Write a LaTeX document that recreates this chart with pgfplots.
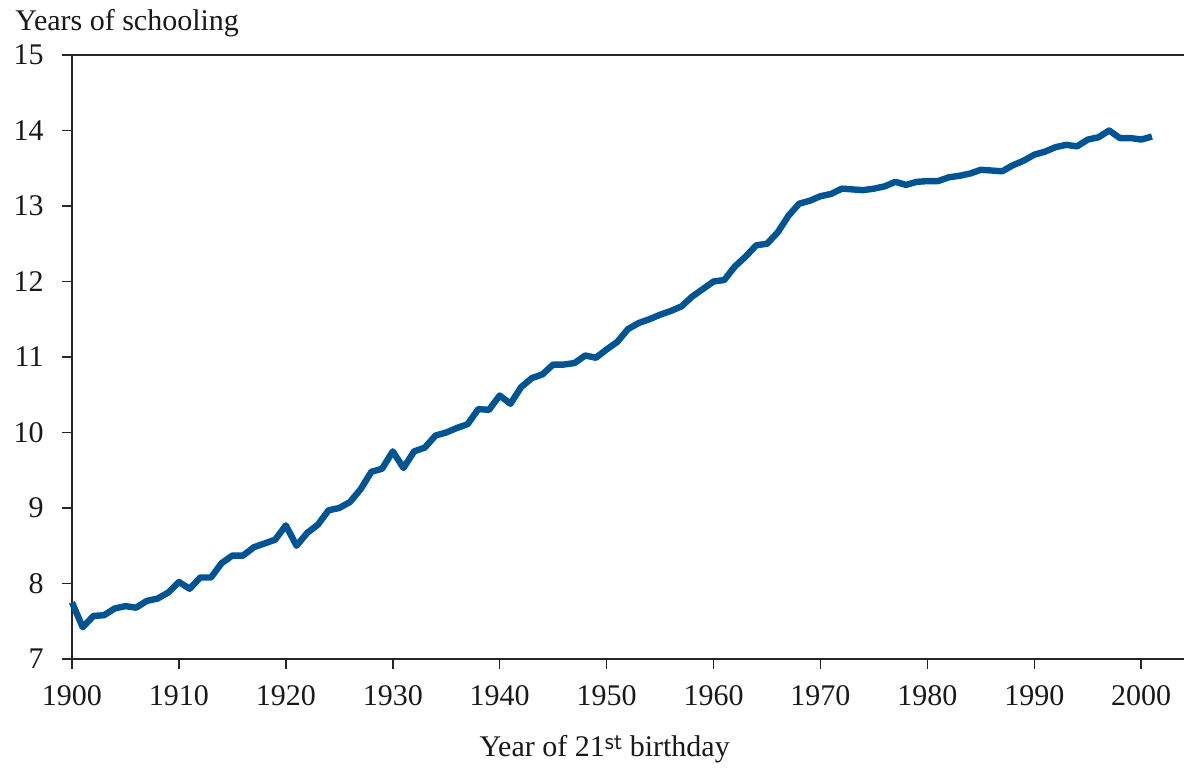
\documentclass[border=0pt]{standalone}
\usepackage{pgfplots}
\pgfplotsset{compat=1.18}
\usepackage{fontspec}
\setmainfont{Liberation Serif}
\definecolor{lineblue}{RGB}{0,84,148}
\begin{document}
\fontsize{15}{18}\selectfont
\begin{tikzpicture}
\path[use as bounding box] (-36pt,-55.5pt) rectangle (556pt,329.5pt);
\begin{axis}[
  scale only axis,
  width=556pt, height=302pt,
  at={(0,0)}, anchor=south west,
  xmin=1900, xmax=2004, ymin=7, ymax=15,
  axis x line=box, axis y line=left,
  axis line style={line width=0.8pt, black!85, -},
  xtick={1900,1910,...,2000}, ytick={7,...,15},
  xtick pos=bottom, ytick pos=left,
  tick align=outside, major tick length=5pt,
  tick style={line width=0.8pt, black!85},
  xticklabel style={/pgf/number format/1000 sep=, yshift=-3pt},
  yticklabel style={xshift=-4pt},
  /pgf/number format/assume math mode=true,
  ticklabel style={font=\fontsize{15}{18}\selectfont, text=black!90},
  clip=false,
]
\addplot[color=lineblue, line width=3.2pt, line join=round] coordinates {
(1900,7.75) (1901,7.42) (1902,7.57) (1903,7.58) (1904,7.67) (1905,7.70) (1906,7.68) (1907,7.77) (1908,7.80) (1909,7.88)
(1910,8.02) (1911,7.93) (1912,8.08) (1913,8.08) (1914,8.27) (1915,8.37) (1916,8.37) (1917,8.48) (1918,8.53) (1919,8.58)
(1920,8.77) (1921,8.50) (1922,8.67) (1923,8.78) (1924,8.97) (1925,9.00) (1926,9.08) (1927,9.25) (1928,9.48) (1929,9.52)
(1930,9.75) (1931,9.53) (1932,9.75) (1933,9.80) (1934,9.96) (1935,10.00) (1936,10.06) (1937,10.11) (1938,10.31) (1939,10.30)
(1940,10.49) (1941,10.38) (1942,10.60) (1943,10.72) (1944,10.77) (1945,10.90) (1946,10.90) (1947,10.92) (1948,11.02) (1949,10.99)
(1950,11.10) (1951,11.20) (1952,11.37) (1953,11.45) (1954,11.50) (1955,11.56) (1956,11.61) (1957,11.67) (1958,11.80) (1959,11.90)
(1960,12.00) (1961,12.02) (1962,12.20) (1963,12.33) (1964,12.48) (1965,12.50) (1966,12.65) (1967,12.87) (1968,13.03) (1969,13.07)
(1970,13.13) (1971,13.16) (1972,13.23) (1973,13.22) (1974,13.21) (1975,13.23) (1976,13.26) (1977,13.32) (1978,13.28) (1979,13.32)
(1980,13.33) (1981,13.33) (1982,13.38) (1983,13.40) (1984,13.43) (1985,13.48) (1986,13.47) (1987,13.46) (1988,13.54) (1989,13.60)
(1990,13.68) (1991,13.72) (1992,13.78) (1993,13.81) (1994,13.79) (1995,13.88) (1996,13.91) (1997,14.00) (1998,13.90) (1999,13.90)
(2000,13.88) (2001,13.92)
};
\node[anchor=base west, inner sep=0pt, text=black!90] at ([xshift=-28.5pt,yshift=12.5pt]rel axis cs:0,1) {Years of schooling};
\node[anchor=base, inner sep=0pt, text=black!90] at ([yshift=-49pt]rel axis cs:0.479,0) {Year of 21\raisebox{0.55ex}{\sffamily\fontsize{12}{14}\selectfont st} birthday};
\end{axis}
\end{tikzpicture}
\end{document}
